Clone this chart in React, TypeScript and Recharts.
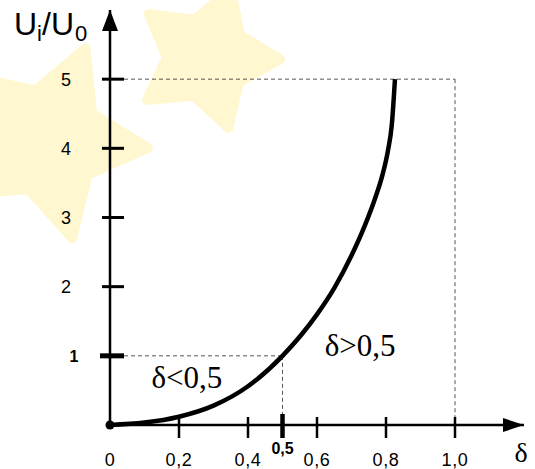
import React from 'react';
import { LineChart, Line, XAxis, YAxis, ReferenceLine, ReferenceDot } from 'recharts';

// duty cycle δ and output ratio Ui/U0
const DUTY = [0, 0.1, 0.2, 0.3, 0.4, 0.5, 0.6, 0.65, 0.7, 0.74, 0.77, 0.79, 0.805, 0.817, 0.826];
const RATIO = [0, 0.035, 0.12, 0.28, 0.56, 1.0, 1.6, 1.98, 2.45, 2.9, 3.3, 3.62, 3.95, 4.35, 5.0];

const X_TICKS = [0, 0.2, 0.4, 0.5, 0.6, 0.8, 1.0];
const X_TICK_LABELS = ['0', '0,2', '0,4', '0,5', '0,6', '0,8', '1,0'];
const Y_TICKS = [1, 2, 3, 4, 5];
const Y_TICK_LABELS = ['1', '2', '3', '4', '5'];

const data = DUTY.map((d, i) => ({ d, u: RATIO[i] }));

const SANS = '"Liberation Sans", Arial, sans-serif';
const SERIF = '"Liberation Serif", "Times New Roman", serif';
const STAR = '#FFF7CF';

const XTick = ({ x, y, payload }: any) => {
  const v = payload.value;
  const i = X_TICKS.indexOf(v);
  const strong = v === 0.5;
  return (
    <g>
      {v > 0 && (
        <line x1={x} x2={x} y1={y - (strong ? 11 : 8)} y2={y + 13} stroke="#000" strokeWidth={strong ? 4.5 : 2.5} />
      )}
      <text x={x} y={strong ? y + 29 : y + 41} textAnchor="middle" fontFamily={SANS} letterSpacing={strong ? 0 : 0.6}
        fontSize={strong ? 16 : 18} fontWeight={strong ? 700 : 400} fill="#000">
        {X_TICK_LABELS[i]}
      </text>
    </g>
  );
};

const YTick = ({ x, y, payload }: any) => {
  const v = payload.value;
  const i = Y_TICKS.indexOf(v);
  const strong = v === 1;
  return (
    <g>
      <line x1={x - (strong ? 10 : 8)} x2={x + 14} y1={y} y2={y} stroke="#000" strokeWidth={strong ? 5 : 3} />
      <text x={strong ? x - 36 : x - 44} y={y + 6.5} textAnchor="middle" fontFamily={SANS}
        fontSize={strong ? 16 : 18} fontWeight={strong ? 700 : 400} fill="#000">
        {Y_TICK_LABELS[i]}
      </text>
    </g>
  );
};

const ArrowRight = ({ cx, cy }: any) => (
  <polygon points={`${cx},${cy} ${cx - 21},${cy - 7} ${cx - 21},${cy + 7}`} fill="#000" />
);
const ArrowUp = ({ cx, cy }: any) => (
  <polygon points={`${cx},${cy} ${cx - 8},${cy + 21} ${cx + 8},${cy + 21}`} fill="#000" />
);

const note = (text: string) => ({ cx, cy }: any) => (
  <text x={cx} y={cy} textAnchor="middle" fontFamily={SERIF} fontSize={31} fill="#000">{text}</text>
);

// soft five-pointed star used as the page decoration
function starPath(cx: number, cy: number, R: number, r: number, rot: number) {
  let d = '';
  for (let k = 0; k < 5; k++) {
    const a = ((rot + k * 72) * Math.PI) / 180;
    const b = ((rot + k * 72 + 36) * Math.PI) / 180;
    const tx = cx + R * Math.cos(a);
    const ty = cy + R * Math.sin(a);
    const ix = cx + r * Math.cos(b);
    const iy = cy + r * Math.sin(b);
    d += `${k === 0 ? 'M' : 'L'}${tx.toFixed(1)},${ty.toFixed(1)} L${ix.toFixed(1)},${iy.toFixed(1)} `;
  }
  return d + 'Z';
}

export default function App() {
  return (
    <div style={{ position: 'absolute', left: 0, top: 0, width: 535, height: 469, background: '#fff' }}>
      <svg width={535} height={469} style={{ position: 'absolute', left: 0, top: 0 }}>
        <path d={starPath(48, 141, 100, 52, -68)} fill={STAR} strokeLinejoin="round" stroke={STAR} strokeWidth={10} />
        <path d={starPath(207, 58, 73, 40, 1)} fill={STAR} strokeLinejoin="round" stroke={STAR} strokeWidth={10} />
      </svg>
      <div style={{ position: 'absolute', left: 0, top: 0 }}>
        <LineChart width={535} height={469} data={data} margin={{ top: 10, right: 11, bottom: 0, left: 50 }}>
          <XAxis dataKey="d" type="number" domain={[0, 1.2]} ticks={X_TICKS} interval={0}
            height={44} tickSize={0} tickMargin={0} tick={<XTick />}
            axisLine={{ stroke: '#000', strokeWidth: 2.5 }} tickLine={false} />
          <YAxis type="number" domain={[0, 6]} ticks={Y_TICKS} interval={0}
            width={60} tickSize={0} tickMargin={0} tick={<YTick />}
            axisLine={{ stroke: '#000', strokeWidth: 2.5 }} tickLine={false} />
          <ReferenceLine segment={[{ x: 0, y: 5 }, { x: 1, y: 5 }]} stroke="#555" strokeDasharray="4 3" strokeWidth={1} />
          <ReferenceLine segment={[{ x: 1, y: 5 }, { x: 1, y: 0 }]} stroke="#555" strokeDasharray="4 3" strokeWidth={1} />
          <ReferenceLine segment={[{ x: 0, y: 1 }, { x: 0.5, y: 1 }]} stroke="#555" strokeDasharray="4 3" strokeWidth={1} />
          <ReferenceLine segment={[{ x: 0.5, y: 1 }, { x: 0.5, y: 0 }]} stroke="#555" strokeDasharray="4 3" strokeWidth={1} />
          <Line dataKey="u" type="monotone" stroke="#000" strokeWidth={4.5} dot={false} isAnimationActive={false} />
          <ReferenceDot x={0} y={0} r={4.5} fill="#000" stroke="none" />
          <ReferenceDot x={1.2} y={0} shape={<ArrowRight />} />
          <ReferenceDot x={0} y={6} shape={<ArrowUp />} />
          <ReferenceDot x={0.223} y={0.53} shape={note('δ<0,5')} />
          <ReferenceDot x={0.725} y={1.0} shape={note('δ>0,5')} />
        </LineChart>
      </div>
      <svg width={535} height={469} style={{ position: 'absolute', left: 0, top: 0, pointerEvents: 'none' }}>
        <text x={14} y={35} fontFamily={SANS} fontSize={32} fill="#000">
          U<tspan fontSize={22} dy={6}>i</tspan>
          <tspan fontSize={32} dy={-6}>/U</tspan>
          <tspan fontSize={22} dy={6} dx={1}>0</tspan>
        </text>
        <text x={521} y={462} textAnchor="middle" fontFamily={SERIF} fontSize={28} fill="#000">δ</text>
      </svg>
    </div>
  );
}
